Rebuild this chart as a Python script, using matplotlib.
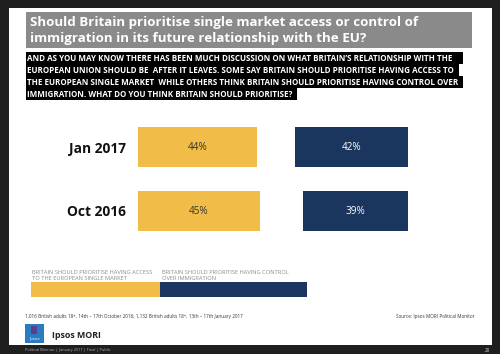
import matplotlib
matplotlib.use("Agg")
import matplotlib.pyplot as plt
from matplotlib.patches import Rectangle

# ---- data ----
periods = ["Jan 2017", "Oct 2016"]
access = [44, 45]     # prioritise access to European single market
control = [42, 39]    # prioritise control over immigration
series_labels = ["BRITAIN SHOULD PRIORITISE HAVING ACCESS\nTO THE EUROPEAN SINGLE MARKET",
                 "BRITAIN SHOULD PRIORITISE HAVING CONTROL\nOVER IMMIGRATION"]
title = "Should Britain prioritise single market access or control of\nimmigration in its future relationship with the EU?"
question_lines = [
    "AND AS YOU MAY KNOW THERE HAS BEEN MUCH DISCUSSION ON WHAT BRITAIN\u2019S RELATIONSHIP WITH THE",
    "EUROPEAN UNION SHOULD BE  AFTER IT LEAVES. SOME SAY BRITAIN SHOULD PRIORITISE HAVING ACCESS TO",
    "THE EUROPEAN SINGLE MARKET  WHILE OTHERS THINK BRITAIN SHOULD PRIORITISE HAVING CONTROL OVER",
    "IMMIGRATION. WHAT DO YOU THINK BRITAIN SHOULD PRIORITISE?",
]
footnote = "1,016 British adults 18+, 14th \u2013 17th October 2016; 1,132 British adults 18+, 13th \u2013 17th January 2017"
source = "Source: Ipsos MORI Political Monitor"
footer = "Political Monitor | January 2017 | Final | Public"
page_no = "20"

YELLOW = "#F1BD48"
NAVY = "#1B365E"
FONT = "Open Sans"

W, H = 500, 354
fig = plt.figure(figsize=(W / 100, H / 100), dpi=100)
fig.patch.set_facecolor("#1f1f1f")

# overlay axes in pixel coordinates
ov = fig.add_axes([0, 0, 1, 1])
ov.set_xlim(0, W)
ov.set_ylim(H, 0)
ov.axis("off")

# white page
ov.add_patch(Rectangle((9, 8), 483, 337, facecolor="white", edgecolor="none", zorder=0))
# title box
ov.add_patch(Rectangle((26, 12), 446, 36, facecolor="#8a8a8a", edgecolor="none", zorder=1))
ov.text(30, 30.5, title, color="white", fontsize=9.6, fontweight="bold", family=FONT,
        va="center", ha="left", linespacing=1.22, zorder=2)

# question box (per-line highlight)
line_widths = [437, 433, 437, 271]
for i, (ln, w) in enumerate(zip(question_lines, line_widths)):
    y0 = 52 + i * 12
    ov.add_patch(Rectangle((26, y0), w, 12, facecolor="black", edgecolor="none", zorder=1))
    ov.text(27, y0 + 6.3, ln, color="white", fontsize=5.72, fontweight="bold", family=FONT,
            va="center", ha="left", zorder=2)

# legend bar
ov.add_patch(Rectangle((31, 282), 129, 15, facecolor=YELLOW, edgecolor="none", zorder=1))
ov.add_patch(Rectangle((160, 282), 147, 15, facecolor=NAVY, edgecolor="none", zorder=1))
ov.text(32, 280.5, series_labels[0], color="#8c8c8c", fontsize=4.15, family=FONT,
        va="bottom", ha="left", linespacing=1.15)
ov.text(162, 280.5, series_labels[1], color="#8c8c8c", fontsize=4.15, family=FONT,
        va="bottom", ha="left", linespacing=1.15)

# footnotes
ov.text(25, 316.5, footnote, color="#333333", fontsize=3.3, family=FONT, va="center", ha="left")
ov.text(475, 316.5, source, color="#333333", fontsize=3.3, family=FONT, va="center", ha="right")

# logo
ov.add_patch(Rectangle((25, 324), 19, 19, facecolor="#2a7bbf", edgecolor="none", zorder=1))
ov.add_patch(Rectangle((31, 326), 6, 8, facecolor="#5b3f8f", edgecolor="none", zorder=2))
ov.text(34.5, 339, "Ipsos", color="white", fontsize=3.2, family=FONT, va="center", ha="center", zorder=3)
ov.text(52, 335, "Ipsos MORI", color="#222222", fontsize=6.4, fontweight="bold", family=FONT,
        va="center", ha="left")

# bottom footer
ov.text(25, 350, footer, color="#b0b0b0", fontsize=2.75, family=FONT, va="center", ha="left")
ov.text(490, 350, page_no, color="#d0d0d0", fontsize=3.3, family=FONT, va="center", ha="right")

# bar axes: x 138..408 px = 0..100 %, y 115..243 px
ax = fig.add_axes([138 / W, 1 - 243 / H, 270 / W, 128 / H])
ax.set_xlim(0, 100)
ax.set_ylim(len(periods) - 0.5, -0.5)
ax.patch.set_alpha(0)
for s in ax.spines.values():
    s.set_visible(False)
ax.set_xticks([])
ax.set_yticks(range(len(periods)))
ax.set_yticklabels(periods, fontsize=9.9, fontweight="bold", family=FONT, color="#111111")
ax.tick_params(axis="y", length=0, pad=9)

ypos = list(range(len(periods)))
ax.barh(ypos, access, height=0.625, color=YELLOW, left=0)
ax.barh(ypos, control, height=0.625, color=NAVY, left=[100 - c for c in control])
for y, a, c in zip(ypos, access, control):
    ax.text(a / 2, y, f"{a}%", ha="center", va="center", fontsize=7.2, family=FONT, color="#333333")
    ax.text(100 - c / 2, y, f"{c}%", ha="center", va="center", fontsize=7.2, family=FONT, color="white")

fig.savefig("out.png", dpi=100, facecolor=fig.get_facecolor())
